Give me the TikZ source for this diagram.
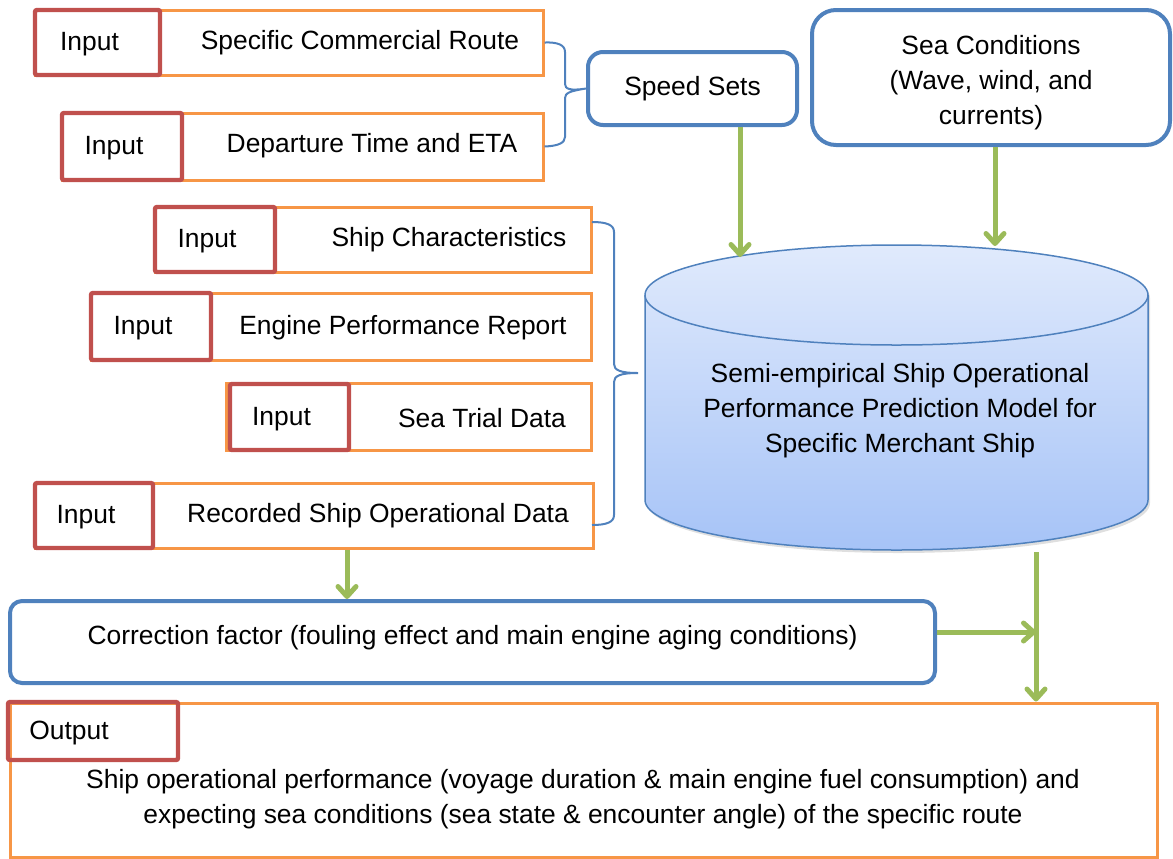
\documentclass[tikz,border=0pt]{standalone}
\usepackage{fontspec}
\setmainfont{Liberation Sans}
\usetikzlibrary{fit,arrows.meta,shadows}

\definecolor{inred}{HTML}{C0504D}
\definecolor{rowor}{HTML}{F79646}
\definecolor{boxblue}{HTML}{4F81BD}
\definecolor{flowgreen}{HTML}{9BBB59}
\definecolor{cyltop}{HTML}{E0EAFC}
\definecolor{cylbot}{HTML}{A6C3F7}

\tikzset{
  rowbox/.style={draw=rowor, line width=1.5pt, inner sep=0pt},
  inbox/.style={draw=inred, line width=2.2pt, rounded corners=1pt, inner sep=0pt},
  bluebox/.style={draw=boxblue, line width=2pt, inner sep=0pt, align=center},
  flow/.style={draw=flowgreen, line width=2.5pt, -{Straight Barb[length=5pt,width=9pt,round]}},
  brace/.style={draw=boxblue, line width=1pt},
}

\begin{document}
\begin{tikzpicture}[x=0.5pt, y=-0.5pt, font=\fontsize{13.2}{17.5}\selectfont]
\useasboundingbox (0,0) rectangle (1173,858);

% input rows
\node[rowbox, fit={(35,10) (543,75)}] (rt1) {};
\node[inbox, fit={(35,10) (160,75)}, label={[xshift=-4pt,yshift=-1pt]center:Input}] (in1) {};
\node (t1) at (360,43) {Specific Commercial Route};

\node[rowbox, fit={(62,113) (543,180)}] (rt2) {};
\node[inbox, fit={(62,113) (182,180)}, label={[xshift=-4pt,yshift=-1pt]center:Input}] (in2) {};
\node (t2) at (372,146) {Departure Time and ETA};

\node[rowbox, fit={(155,207) (591,272)}] (rt3) {};
\node[inbox, fit={(155,207) (275,272)}, label={[xshift=-4pt,yshift=-1pt]center:Input}] (in3) {};
\node (t3) at (449,240) {Ship Characteristics};

\node[rowbox, fit={(91,293) (591,360)}] (rt4) {};
\node[inbox, fit={(91,293) (211,360)}, label={[xshift=-4pt,yshift=-1pt]center:Input}] (in4) {};
\node (t4) at (403,328) {Engine Performance Report};

\node[rowbox, fit={(226,383) (591,450)}] (rt5) {};
\node[inbox, fit={(230,384) (349,450)}, label={[xshift=-4pt,yshift=-1pt]center:Input}] (in5) {};
\node (t5) at (482,418) {Sea Trial Data};

\node[rowbox, fit={(35,483) (593,548)}] (rt6) {};
\node[inbox, fit={(35,483) (153,548)}, label={[xshift=-4pt,yshift=-1pt]center:Input}] (in6) {};
\node (t6) at (378,516) {Recorded Ship Operational Data};

% upper boxes
\node[bluebox, rounded corners=7.5pt, fit={(588,52) (797,125)}, label=center:Speed Sets] (sp) {};
\node[bluebox, rounded corners=12pt, fit={(812,10) (1170,145)},
      label={[align=center,yshift=-2.5pt]center:Sea Conditions\\(Wave, wind, and\\currents)}] (sea) {};

% braces
\draw[brace] (rt1.east) .. controls (558,42) and (565,45) .. (565,52) -- (565,84)
  .. controls (565,89) and (570,91) .. (sp.west)
  .. controls (570,91) and (565,93) .. (565,98) -- (565,137)
  .. controls (565,143) and (558,146) .. (rt2.east);
\coordinate (b2top) at (592,222);
\coordinate (b2tip) at (638,373);
\coordinate (b2bot) at (592,525);
\draw[brace] (b2top) .. controls (607,222) and (614,225) .. (614,232) -- (614,364)
  .. controls (614,370) and (620,373) .. (b2tip)
  .. controls (620,373) and (614,376) .. (614,382) -- (614,515)
  .. controls (614,522) and (607,525) .. (b2bot);

% model cylinder
\path[draw=boxblue, line width=0.75pt, top color=cyltop, bottom color=cylbot,
      drop shadow={opacity=0.25, shadow xshift=1pt, shadow yshift=-1.5pt}]
  (645,295) -- (645,500) arc[start angle=180, end angle=360, x radius=125.75pt, y radius=25pt]
  -- (1148,295) arc[start angle=0, end angle=180, x radius=125.75pt, y radius=25pt] -- cycle;
\draw[boxblue, line width=0.75pt] (645,295) arc[start angle=180, end angle=360, x radius=125.75pt, y radius=25pt];
\node[align=center] (model) at (900,411) {Semi-empirical Ship Operational\\Performance Prediction Model for\\Specific Merchant Ship};
\coordinate (cylSp) at (740,257);
\coordinate (cylSea) at (995,246);
\coordinate (cylOut) at (1036,552);

% correction and output
\node[bluebox, rounded corners=6pt, fit={(10,601) (935,683)},
      label={[yshift=2pt]center:Correction factor (fouling effect and main engine aging conditions)}] (corr) {};
\node[rowbox, fit={(10,703) (1157,857)}] (out) {};
\node[inbox, fit={(8,702) (178,760)}, label={[xshift=-12pt,yshift=-1pt]center:Output}] (outlbl) {};
\node[align=center] (outtxt) at (583,799) {Ship operational performance (voyage duration \& main engine fuel consumption) and\\expecting sea conditions (sea state \& encounter angle) of the specific route};

% flows
\draw[flow] (sp.south -| cylSp) -- (cylSp);
\draw[flow] (sea.south -| cylSea) -- (cylSea);
\draw[flow] ([xshift=16.5pt]rt6.south) -- ([xshift=16.5pt]rt6.south |- corr.north);
\draw[flow] (cylOut) -- (cylOut |- out.north);
\draw[flow] ([yshift=5pt]corr.east) -- ([yshift=5pt]corr.east -| cylOut);
\end{tikzpicture}
\end{document}
